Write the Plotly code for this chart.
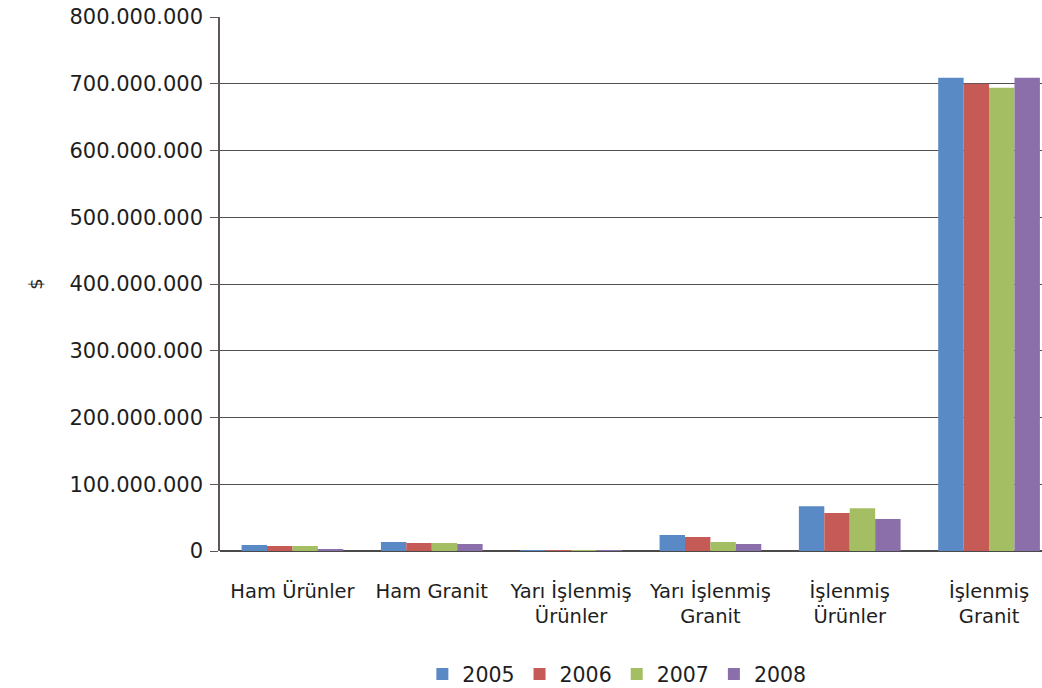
import plotly.graph_objects as go

categories = ["Ham Ürünler", "Ham Granit", "Yarı İşlenmiş<br>Ürünler", "Yarı İşlenmiş<br>Granit",
              "İşlenmiş<br>Ürünler", "İşlenmiş<br>Granit"]
years = ["2005", "2006", "2007", "2008"]
v2005 = [9000000, 13500000, 1500000, 24000000, 67000000, 709000000]
v2006 = [7500000, 12000000, 1500000, 21000000, 57000000, 700000000]
v2007 = [7500000, 12000000, 1500000, 13500000, 64000000, 694000000]
v2008 = [3000000, 10500000, 1500000, 10500000, 48000000, 709000000]
colors = ["#5A8AC6", "#C65A57", "#A4BF63", "#8A6FAA"]
tickvals = [0, 100000000, 200000000, 300000000, 400000000, 500000000, 600000000, 700000000, 800000000]
ticktext = ["0", "100.000.000", "200.000.000", "300.000.000", "400.000.000", "500.000.000",
            "600.000.000", "700.000.000", "800.000.000"]

font_family = "DejaVu Sans, sans-serif"
txt = "#1e1e1e"

fig = go.Figure()
for name, vals, col in zip(years, [v2005, v2006, v2007, v2008], colors):
    fig.add_trace(go.Bar(x=list(range(len(categories))), y=vals, name=name,
                         marker=dict(color=col, line=dict(width=0))))

fig.update_layout(
    width=1042, height=688,
    margin=dict(l=220, r=0, t=17, b=137, autoexpand=False),
    paper_bgcolor="white", plot_bgcolor="white",
    barmode="group", bargap=0.27, bargroupgap=0,
    font=dict(family=font_family, color=txt, size=18),
    showlegend=True,
    legend=dict(orientation="h", x=0.592, xanchor="center", xref="container",
                y=0.02, yanchor="middle", yref="container",
                font=dict(size=20.5, family=font_family, color=txt), itemwidth=30,
                traceorder="normal"),
)
fig.update_xaxes(
    range=[-0.52, 5.38], automargin=False,
    tickmode="array", tickvals=list(range(len(categories))), ticktext=categories,
    showgrid=False, showline=False, ticks="", zeroline=False,
    ticklabelstandoff=26,
    tickfont=dict(size=19.5, family=font_family, color=txt),
)
fig.update_yaxes(
    range=[0, 800000000], automargin=False,
    tickmode="array", tickvals=tickvals, ticktext=ticktext,
    showgrid=True, gridcolor="#505050", gridwidth=1,
    showline=True, linecolor="#5f5656", linewidth=1.5,
    ticks="outside", ticklen=8, tickcolor="#5f5656",
    ticklabelstandoff=3,
    zeroline=True, zerolinecolor="#4a4a4a", zerolinewidth=2,
    tickfont=dict(size=21, family=font_family, color=txt),
    title=dict(text="$", font=dict(size=18, family=font_family, color=txt), standoff=22),
)
fig.write_html("out.html")
